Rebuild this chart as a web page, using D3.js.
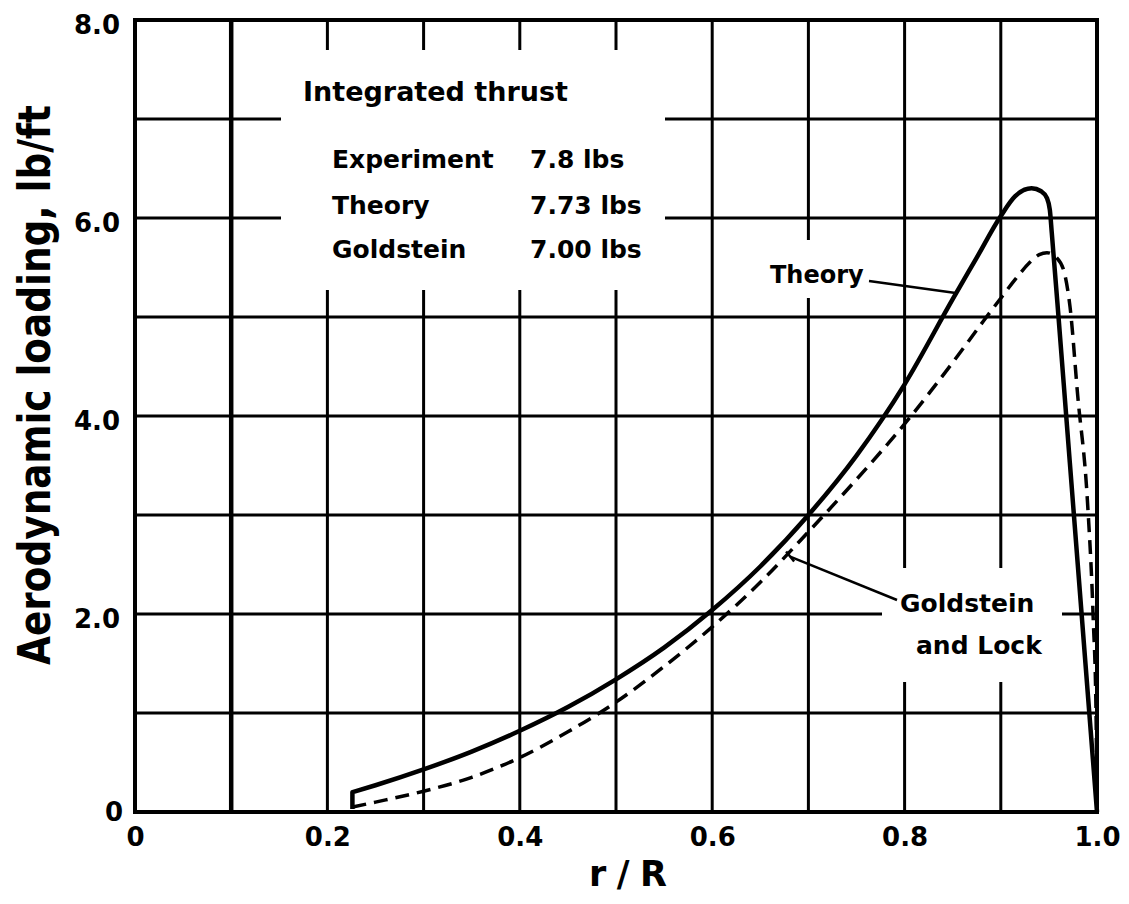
<!DOCTYPE html>
<html>
<head>
<meta charset="utf-8">
<script src="https://cdn.jsdelivr.net/npm/d3@7"></script>
<style>
  body { margin: 0; background: #fff; }
  svg { display: block; }
  text { font-family: 'DejaVu Sans', sans-serif; font-weight: bold; fill: #000; }
</style>
</head>
<body>
<svg id="chart" width="1129" height="904"></svg>
<script>
// values
// first theory point is the foot of the little vertical start
const theoryR = [0.226, 0.226, 0.25, 0.3, 0.35, 0.4, 0.45, 0.5, 0.55, 0.6, 0.65, 0.7, 0.75, 0.8, 0.85, 0.875, 0.9, 0.915, 0.932, 0.942, 0.948, 0.951, 0.953, 0.96, 0.968, 0.976, 0.984, 0.992, 1.0]
const theoryLoad = [0.03, 0.2, 0.27, 0.43, 0.61, 0.82, 1.06, 1.34, 1.66, 2.04, 2.48, 3.0, 3.6, 4.32, 5.18, 5.6, 6.02, 6.22, 6.3, 6.27, 6.2, 6.08, 5.85, 5.0, 4.0, 3.0, 2.0, 1.0, 0]

const goldR = [0.226, 0.25, 0.3, 0.35, 0.4, 0.45, 0.5, 0.55, 0.6, 0.65, 0.7, 0.75, 0.8, 0.85, 0.882, 0.9, 0.915, 0.93, 0.94, 0.948, 0.958, 0.966, 0.972, 0.98, 0.99, 0.996, 0.999, 1.0]
const goldLoad = [0.05, 0.1, 0.21, 0.35, 0.55, 0.81, 1.11, 1.47, 1.87, 2.32, 2.83, 3.36, 3.92, 4.54, 4.96, 5.19, 5.38, 5.55, 5.63, 5.65, 5.6, 5.45, 5.1, 4.2, 3.15, 1.97, 1.0, 0]

const xTicks = [0, 0.2, 0.4, 0.6, 0.8, 1.0]
const yTicks = [0, 2, 4, 6, 8]
const xGrid = [0.1, 0.2, 0.3, 0.4, 0.5, 0.6, 0.7, 0.8, 0.9]
const yGrid = [1, 2, 3, 4, 5, 6, 7]

const thrustTitle = 'Integrated thrust'
const thrustNames = ['Experiment', 'Theory', 'Goldstein']
const thrustValues = ['7.8 lbs', '7.73 lbs', '7.00 lbs']

const svg = d3.select('#chart')
svg.append('rect').attr('width', 1129).attr('height', 904).attr('fill', '#fff')

const x = d3.scaleLinear().domain([0, 1]).range([135, 1097])
const y = d3.scaleLinear().domain([0, 8]).range([812, 20])

// grid
svg.append('g').selectAll('line').data(xGrid).join('line')
  .attr('x1', d => x(d)).attr('x2', d => x(d))
  .attr('y1', y(0)).attr('y2', y(8))
  .attr('stroke', '#000').attr('stroke-width', d => d === 0.1 ? 4.5 : 3)

svg.append('g').selectAll('line').data(yGrid).join('line')
  .attr('x1', x(0)).attr('x2', x(1))
  .attr('y1', d => y(d)).attr('y2', d => y(d))
  .attr('stroke', '#000').attr('stroke-width', 3)

// gaps in the grid behind the lettering
const gaps = [
  [281, 50, 384, 240],
  [762, 240, 110, 58],
  [882, 568, 180, 114]
]
svg.append('g').selectAll('rect').data(gaps).join('rect')
  .attr('x', d => d[0]).attr('y', d => d[1])
  .attr('width', d => d[2]).attr('height', d => d[3])
  .attr('fill', '#fff')

// frame
svg.append('rect')
  .attr('x', x(0)).attr('y', y(8))
  .attr('width', x(1) - x(0)).attr('height', y(0) - y(8))
  .attr('fill', 'none').attr('stroke', '#000').attr('stroke-width', 4)

// curves
const line = d3.line()
  .x(d => x(d[0]))
  .y(d => y(d[1]))
  .curve(d3.curveMonotoneX)

const theoryPts = theoryR.map((r, i) => [r, theoryLoad[i]])
const foot = theoryPts[0]
// straight start stroke, then the smooth curve
const theoryPath = `M${x(foot[0])},${y(foot[1])}L` + line(theoryPts.slice(1)).slice(1)

svg.append('path')
  .attr('d', theoryPath)
  .attr('fill', 'none').attr('stroke', '#000').attr('stroke-width', 4.5)
  .attr('stroke-linejoin', 'round')

svg.append('path')
  .datum(goldR.map((r, i) => [r, goldLoad[i]]))
  .attr('d', line)
  .attr('fill', 'none').attr('stroke', '#000').attr('stroke-width', 3.5)
  .attr('stroke-dasharray', '14,8')

// axes (labels only, the grid does the rest)
const xAxis = svg.append('g')
  .attr('transform', `translate(0,${y(0)})`)
  .call(d3.axisBottom(x).tickValues(xTicks).tickSize(0).tickPadding(16)
    .tickFormat(d => d === 0 ? '0' : d.toFixed(1)))
xAxis.select('.domain').remove()
xAxis.selectAll('text').style('font-size', '26px')
  .style('font-family', "'DejaVu Sans', sans-serif").style('font-weight', 'bold')

const yAxis = svg.append('g')
  .attr('transform', `translate(${x(0)},0)`)
  .call(d3.axisLeft(y).tickValues(yTicks).tickSize(0).tickPadding(15)
    .tickFormat(d => d === 0 ? '0' : d.toFixed(1)))
yAxis.select('.domain').remove()
yAxis.selectAll('text').style('font-size', '26px')
  .style('font-family', "'DejaVu Sans', sans-serif").style('font-weight', 'bold')
  .attr('dy', '0.5em')
yAxis.selectAll('.tick').filter(d => d === 0).select('text').attr('dy', '0.32em').attr('x', -12)

// axis titles
svg.append('text')
  .attr('x', 628).attr('y', 886)
  .attr('text-anchor', 'middle')
  .attr('textLength', 78).attr('lengthAdjust', 'spacing')
  .style('font-size', '35px')
  .text('r/R')

svg.append('text')
  .attr('transform', 'translate(50,385) rotate(-90)')
  .attr('text-anchor', 'middle')
  .attr('textLength', 560).attr('lengthAdjust', 'spacingAndGlyphs')
  .style('font-size', '44px')
  .text('Aerodynamic loading, lb/ft')

// thrust table
svg.append('text')
  .attr('x', 303).attr('y', 101)
  .style('font-size', '27px')
  .text(thrustTitle)

const rowY = [168, 214, 258]
thrustNames.forEach((name, i) => {
  svg.append('text').attr('x', 332).attr('y', rowY[i]).style('font-size', '25px').text(name)
  svg.append('text').attr('x', 530).attr('y', rowY[i]).style('font-size', '25px').text(thrustValues[i])
})

// curve labels and leaders
svg.append('text').attr('x', 770).attr('y', 283).style('font-size', '24px').text('Theory')
svg.append('line')
  .attr('x1', 869).attr('y1', 281).attr('x2', x(0.855)).attr('y2', y(5.24))
  .attr('stroke', '#000').attr('stroke-width', 2.5)

svg.append('text').attr('x', 900).attr('y', 612).style('font-size', '25px').text('Goldstein')
svg.append('text').attr('x', 916).attr('y', 654).style('font-size', '25px').text('and Lock')
svg.append('line')
  .attr('x1', 897).attr('y1', 600).attr('x2', x(0.681)).attr('y2', y(2.58))
  .attr('stroke', '#000').attr('stroke-width', 2.5)
svg.append('line')
  .attr('x1', x(0.681) - 4).attr('y1', y(2.58) - 5).attr('x2', x(0.681) + 4).attr('y2', y(2.58) + 5)
  .attr('stroke', '#000').attr('stroke-width', 2.5)
</script>
</body>
</html>
